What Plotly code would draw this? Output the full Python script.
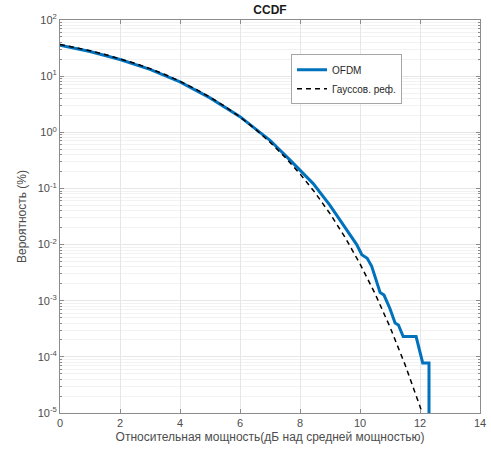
import plotly.graph_objects as go

# OFDM CCDF, x in dB, y in %
ofdm_x = [0, 1, 2, 3, 4, 5, 6, 7, 7.67, 8, 8.44, 9, 9.5, 9.89, 10.06, 10.24, 10.39,
          10.67, 10.8, 11.0, 11.17, 11.28, 11.44, 11.87, 12.09, 12.30, 12.30]
ofdm_y = [35.5, 27.5, 19.8, 13.2, 7.9, 4.1, 1.9, 0.72, 0.32, 0.21, 0.122, 0.05, 0.02,
          0.01, 6.6e-3, 5.7e-3, 4.1e-3, 1.4e-3, 1.26e-3, 7.2e-4, 4.0e-4, 3.7e-4,
          2.3e-4, 2.3e-4, 7.8e-5, 7.8e-5, 1e-6]

# Gaussian reference
gauss_x = [0, 0.5, 1, 1.5, 2, 2.5, 3, 3.5, 4, 4.5, 5, 5.5, 6, 6.5, 7, 7.5, 8, 8.5,
           9, 9.5, 10, 10.5, 11, 11.5, 12, 12.1]
gauss_y = [36.8, 32.7, 28.4, 24.3, 20.5, 16.9, 13.6, 10.7, 8.1, 5.97, 4.23, 2.88,
           1.87, 1.15, 0.666, 0.361, 0.182, 0.0843, 0.0355, 0.0135, 4.54e-3,
           1.34e-3, 3.4e-4, 7.3e-5, 1.31e-5, 9.0e-6]

x_ticks = [0, 2, 4, 6, 8, 10, 12, 14]
y_tick_vals = [1e-5, 1e-4, 1e-3, 1e-2, 1e-1, 1e0, 1e1, 1e2]
y_tick_text = ["10<sup>-5</sup>", "10<sup>-4</sup>", "10<sup>-3</sup>", "10<sup>-2</sup>",
               "10<sup>-1</sup>", "10<sup>0</sup>", "10<sup>1</sup>", "10<sup>2</sup>"]

fig = go.Figure()
fig.add_trace(go.Scatter(x=ofdm_x, y=ofdm_y, mode="lines", name="OFDM",
                         line=dict(color="#0072BD", width=3)))
fig.add_trace(go.Scatter(x=gauss_x, y=gauss_y, mode="lines", name="Гауссов. реф.",
                         line=dict(color="#000000", width=1.5, dash="5px,4px")))

axis_common = dict(showline=True, linecolor="#8c8c8c", linewidth=1, mirror="ticks",
                   ticks="inside", ticklen=4, tickcolor="#8c8c8c", automargin=False,
                   showgrid=True, gridcolor="#e6e6e6", gridwidth=1, zeroline=False,
                   tickfont=dict(family="Liberation Sans, Arial", size=11, color="#4d4d4d"))

fig.update_layout(
    width=491, height=451,
    margin=dict(l=60, r=11, t=20, b=38),
    paper_bgcolor="white", plot_bgcolor="white",
    title=dict(text="<b>CCDF</b>", x=270 / 491, xanchor="center", y=1 - 10 / 451, yanchor="middle",
               font=dict(family="Liberation Sans, Arial", size=12, color="#1a1a1a")),
    font=dict(family="Liberation Sans, Arial", size=11, color="#4d4d4d"),
    showlegend=True,
    legend=dict(x=0.55, y=0.913, xanchor="left", yanchor="top",
                bgcolor="white", bordercolor="#a6a6a6", borderwidth=1,
                font=dict(family="Liberation Sans, Arial", size=10, color="#262626"),
                tracegroupgap=0, itemwidth=30),
    xaxis=dict(range=[0, 14], tickvals=x_ticks,
               title=dict(text="Относительная мощность(дБ над средней мощностью)", standoff=4,
                          font=dict(family="Liberation Sans, Arial", size=12, color="#4d4d4d")),
               **axis_common),
    yaxis=dict(type="log", range=[-5, 2], tickvals=y_tick_vals, ticktext=y_tick_text,
               title=dict(text="Вероятность (%)", standoff=8,
                          font=dict(family="Liberation Sans, Arial", size=12, color="#4d4d4d")),
               minor=dict(showgrid=True, gridcolor="#f2f2f2", ticks="inside", ticklen=2,
                          tickcolor="#8c8c8c", dtick="D1"),
               **axis_common),
)

fig.write_html("out.html", config={"displayModeBar": False},
               post_script="document.body.style.margin='0';")
